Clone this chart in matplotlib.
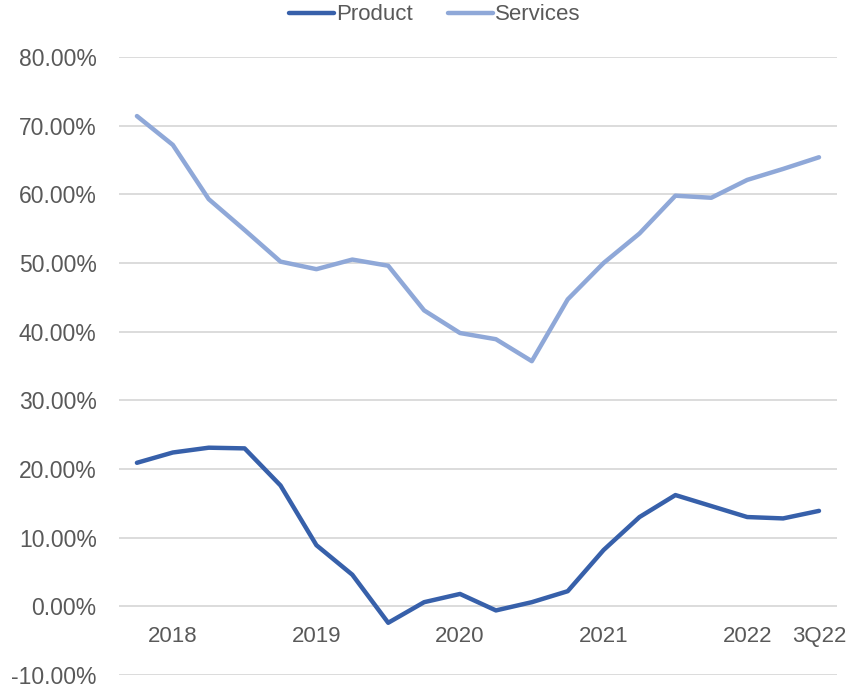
import numpy as np
import matplotlib.pyplot as plt
from matplotlib.ticker import FuncFormatter

# quarterly gross margin, percent
quarter_labels = ["", "2018", "", "", "", "2019", "", "", "", "2020",
                  "", "", "", "2021", "", "", "", "2022", "", "3Q22"]
product = [20.9, 22.4, 23.1, 23.0, 17.6, 8.9, 4.6, -2.4, 0.6, 1.8,
           -0.6, 0.6, 2.2, 8.2, 13.0, 16.2, 14.6, 13.0, 12.8, 13.9]
services = [71.4, 67.2, 59.3, 54.8, 50.2, 49.1, 50.5, 49.6, 43.1, 39.8,
            38.9, 35.7, 44.7, 50.0, 54.3, 59.8, 59.5, 62.1, 63.7, 65.4]

text_color = "#595959"
plt.rcParams["font.family"] = ["Liberation Sans", "DejaVu Sans"]

fig = plt.figure(figsize=(8.51, 6.91), dpi=100)
ax = fig.add_axes([0.1398, 0.0232, 0.8437, 0.8943])

x = np.arange(len(quarter_labels))
ax.plot(x, product, color="#3760AA", lw=3.2, solid_capstyle="round",
        solid_joinstyle="round", label="Product", zorder=3)
ax.plot(x, services, color="#8FA8D8", lw=3.2, solid_capstyle="round",
        solid_joinstyle="round", label="Services", zorder=3)

ax.set_xlim(-0.5, len(x) - 0.5)
ax.set_ylim(-10, 80)
ax.set_yticks(np.arange(-10, 81, 10))
ax.yaxis.set_major_formatter(FuncFormatter(lambda v, p: f"{v:.2f}%"))
ax.grid(axis="y", color="#D9D9D9", lw=1.3, zorder=0)
ax.set_axisbelow(True)

# category labels hang just under the zero line
ax.spines["bottom"].set_position(("data", 0))
for s in ax.spines.values():
    s.set_visible(False)
ax.set_xticks(x)
ax.set_xticklabels(quarter_labels)
ax.tick_params(axis="x", length=0, pad=14, labelsize=16, labelcolor=text_color)
ax.tick_params(axis="y", length=0, pad=16, labelsize=16.5, labelcolor=text_color)

leg = ax.legend(loc="center", bbox_to_anchor=(0.44, 1.068), ncol=2,
                frameon=False, fontsize=16, handlelength=2.0,
                handletextpad=0.1, columnspacing=1.6)
for t in leg.get_texts():
    t.set_color(text_color)

fig.savefig("out.png", dpi=100)
